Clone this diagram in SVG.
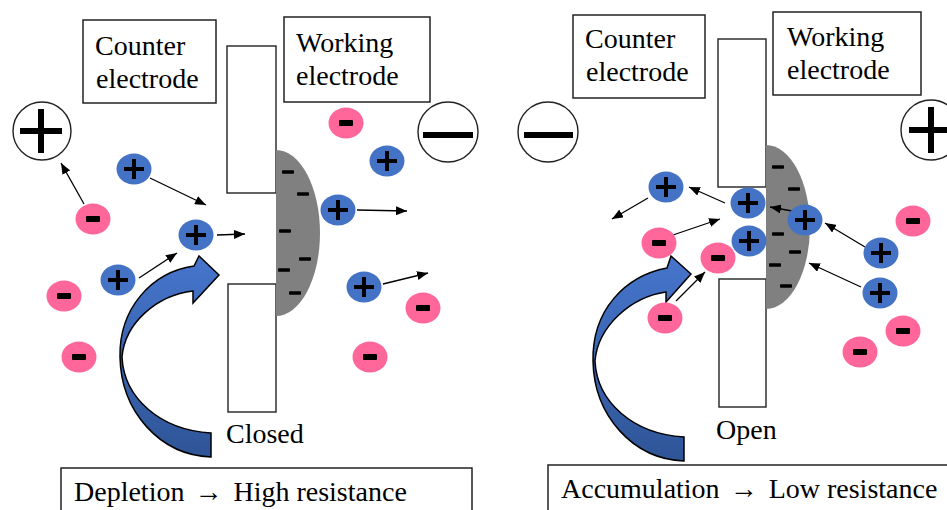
<svg xmlns="http://www.w3.org/2000/svg" xmlns:xlink="http://www.w3.org/1999/xlink" width="947" height="510" viewBox="0 0 947 510">
  <style>
    .lbl { font-family: "Liberation Serif", "Times New Roman", serif; font-size: 28px; fill: #000; }
    .box { fill: #fff; stroke: #222; stroke-width: 1.5; }
    .elec { fill: #fff; stroke: #222; stroke-width: 1.4; }
    .layer { fill: #808080; }
    .dash { fill: #000; }
    .term { fill: #fff; stroke: #222; stroke-width: 1.4; }
    .bar { fill: #000; }
    .flow { stroke: #000; stroke-width: 1.3; fill: none; marker-end: url(#tip); }
    .bend { fill: url(#blueGrad); stroke: #000; stroke-width: 1.5; stroke-linejoin: miter; }
  </style>
  <defs>
    <marker id="tip" markerUnits="userSpaceOnUse" markerWidth="11" markerHeight="9" refX="11" refY="4.5" orient="auto">
      <path d="M0,0 L11,4.5 L0,9 Z" fill="#000"/>
    </marker>
    <linearGradient id="blueGrad" x1="0" y1="0" x2="0" y2="1">
      <stop offset="0" stop-color="#4675CC"/>
      <stop offset="1" stop-color="#2F5597"/>
    </linearGradient>
    <!-- cation: blue ellipse with plus -->
    <g id="cat">
      <ellipse cx="0" cy="0" rx="17.5" ry="15.5" fill="#4472C4"/>
      <rect x="-10" y="-2" width="20" height="4" fill="#000"/>
      <rect x="-2" y="-10" width="4" height="20" fill="#000"/>
    </g>
    <!-- anion: pink ellipse with minus -->
    <g id="ani">
      <ellipse cx="0" cy="0" rx="17.5" ry="15.5" fill="#FF6699"/>
      <rect x="-7" y="-3" width="14" height="6" rx="1" fill="#000"/>
    </g>
    <rect id="d" x="-6" y="-1.8" width="12" height="3.6" rx="0.8"/>
  </defs>

  <!-- ===== Left panel: depletion ===== -->
  <g id="left-counter-label">
    <rect class="box" x="83" y="20" width="133" height="83"/>
    <text class="lbl" x="95" y="55">Counter</text>
    <text class="lbl" x="96" y="88">electrode</text>
  </g>
  <g id="left-working-label">
    <rect class="box" x="284" y="17" width="146" height="85"/>
    <text class="lbl" x="296" y="52">Working</text>
    <text class="lbl" x="296" y="85">electrode</text>
  </g>
  <g id="left-electrode-top"><rect class="elec" x="227" y="46" width="49" height="147"/></g>
  <g id="left-electrode-bottom"><rect class="elec" x="228" y="284" width="48" height="128"/></g>
  <g id="left-double-layer">
    <path class="layer" d="M276,150 A44,83 0 0 1 276,316 Z"/>
    <use xlink:href="#d" class="dash" x="288" y="172"/>
    <use xlink:href="#d" class="dash" x="303" y="194"/>
    <use xlink:href="#d" class="dash" x="285" y="231"/>
    <use xlink:href="#d" class="dash" x="305" y="259"/>
    <use xlink:href="#d" class="dash" x="284" y="270"/>
    <use xlink:href="#d" class="dash" x="295" y="293"/>
  </g>
  <g id="left-terminal-plus">
    <circle class="term" cx="42" cy="131" r="29"/>
    <rect class="bar" x="20" y="128" width="42" height="6"/>
    <rect class="bar" x="38" y="109" width="6" height="44"/>
  </g>
  <g id="left-terminal-minus">
    <circle class="term" cx="448" cy="132" r="30"/>
    <rect class="bar" x="423" y="132" width="50" height="6"/>
  </g>
  <g id="left-bend-arrow">
    <path class="bend" d="M211,457 C160,455 121,412 120,357 C119,308 152,272 194,266 L199,256 L219,275 L193,303 L193,291 C158,295 125,322 122,357 C124,398 160,430 211,433 Z"/>
  </g>
  <g id="left-closed-label"><text class="lbl" x="226" y="443">Closed</text></g>
  <g id="left-result">
    <rect class="box" x="61" y="468" width="411" height="60"/>
    <text class="lbl" x="74" y="501">Depletion <tspan dx="3">→</tspan><tspan dx="4"> High resistance</tspan></text>
  </g>

  <!-- ===== Right panel: accumulation ===== -->
  <g id="right-counter-label">
    <rect class="box" x="573" y="15" width="132" height="83"/>
    <text class="lbl" x="585" y="48">Counter</text>
    <text class="lbl" x="586" y="81">electrode</text>
  </g>
  <g id="right-working-label">
    <rect class="box" x="773" y="12" width="148" height="83"/>
    <text class="lbl" x="787" y="46">Working</text>
    <text class="lbl" x="787" y="79">electrode</text>
  </g>
  <g id="right-electrode-top"><rect class="elec" x="718" y="39" width="48" height="148"/></g>
  <g id="right-electrode-bottom"><rect class="elec" x="719" y="279" width="47" height="128"/></g>
  <g id="right-double-layer">
    <path class="layer" d="M766,145 A44,82 0 0 1 766,309 Z"/>
    <use xlink:href="#d" class="dash" x="778" y="167"/>
    <use xlink:href="#d" class="dash" x="794" y="189"/>
    <use xlink:href="#d" class="dash" x="778" y="234"/>
    <use xlink:href="#d" class="dash" x="795" y="252"/>
    <use xlink:href="#d" class="dash" x="775" y="265"/>
    <use xlink:href="#d" class="dash" x="786" y="286"/>
  </g>
  <g id="right-terminal-minus">
    <circle class="term" cx="548" cy="132" r="30"/>
    <rect class="bar" x="524" y="132" width="49" height="6"/>
  </g>
  <g id="right-terminal-plus">
    <circle class="term" cx="931" cy="130" r="30"/>
    <rect class="bar" x="909" y="127" width="44" height="6"/>
    <rect class="bar" x="928" y="107" width="6" height="46"/>
  </g>
  <g id="right-bend-arrow">
    <path class="bend" d="M684,461 C633,459 594,416 593,361 C592,310 625,276 667,268 L671,256 L691,274 L666,302 L666,292 C631,297 598,326 595,361 C597,402 633,434 684,437 Z"/>
  </g>
  <g id="right-open-label"><text class="lbl" x="716" y="439">Open</text></g>
  <g id="right-result">
    <rect class="box" x="548" y="465" width="420" height="60"/>
    <text class="lbl" x="561" y="498">Accumulation <tspan dx="3">→</tspan><tspan dx="4"> Low resistance</tspan></text>
  </g>

  <!-- ion drift arrows -->
  <g id="connectors">
    <line class="flow" x1="84" y1="204" x2="61" y2="163"/>
    <line class="flow" x1="150" y1="178" x2="206" y2="205"/>
    <line class="flow" x1="217" y1="235" x2="245" y2="234"/>
    <line class="flow" x1="357" y1="210" x2="407" y2="211"/>
    <line class="flow" x1="139" y1="278" x2="177" y2="253"/>
    <line class="flow" x1="383" y1="284" x2="428" y2="273"/>
    <line class="flow" x1="648" y1="198" x2="612" y2="219"/>
    <line class="flow" x1="725" y1="203" x2="689" y2="187"/>
    <line class="flow" x1="673" y1="235" x2="720" y2="219"/>
    <line class="flow" x1="676" y1="301" x2="705" y2="272"/>
    <line class="flow" x1="792" y1="211" x2="770" y2="207"/>
    <line class="flow" x1="865" y1="247" x2="825" y2="223"/>
    <line class="flow" x1="861" y1="287" x2="809" y2="263"/>
  </g>

  <!-- ions, left panel -->
  <g id="l-an-1"><use xlink:href="#ani" x="93" y="219"/></g>
  <g id="l-an-2"><use xlink:href="#ani" x="346" y="123"/></g>
  <g id="l-an-3"><use xlink:href="#ani" x="64" y="296"/></g>
  <g id="l-an-4"><use xlink:href="#ani" x="79" y="357"/></g>
  <g id="l-an-5"><use xlink:href="#ani" x="423" y="308"/></g>
  <g id="l-an-6"><use xlink:href="#ani" x="370" y="357"/></g>
  <g id="l-cat-1"><use xlink:href="#cat" x="134" y="169"/></g>
  <g id="l-cat-2"><use xlink:href="#cat" x="387" y="161"/></g>
  <g id="l-cat-3"><use xlink:href="#cat" x="196" y="235"/></g>
  <g id="l-cat-4"><use xlink:href="#cat" x="338" y="210"/></g>
  <g id="l-cat-5"><use xlink:href="#cat" x="118" y="280"/></g>
  <g id="l-cat-6"><use xlink:href="#cat" x="364" y="287"/></g>

  <!-- ions, right panel -->
  <g id="r-cat-1"><use xlink:href="#cat" x="666" y="187"/></g>
  <g id="r-cat-2"><use xlink:href="#cat" x="748" y="203"/></g>
  <g id="r-cat-3"><use xlink:href="#cat" x="749" y="241"/></g>
  <g id="r-cat-4"><use xlink:href="#cat" x="805" y="220"/></g>
  <g id="r-cat-5"><use xlink:href="#cat" x="881" y="253"/></g>
  <g id="r-cat-6"><use xlink:href="#cat" x="880" y="293"/></g>
  <g id="r-an-1"><use xlink:href="#ani" x="659" y="243"/></g>
  <g id="r-an-2"><use xlink:href="#ani" x="718" y="258"/></g>
  <g id="r-an-3"><use xlink:href="#ani" x="665" y="318"/></g>
  <g id="r-an-4"><use xlink:href="#ani" x="913" y="221"/></g>
  <g id="r-an-5"><use xlink:href="#ani" x="903" y="331"/></g>
  <g id="r-an-6"><use xlink:href="#ani" x="860" y="352"/></g>
</svg>
